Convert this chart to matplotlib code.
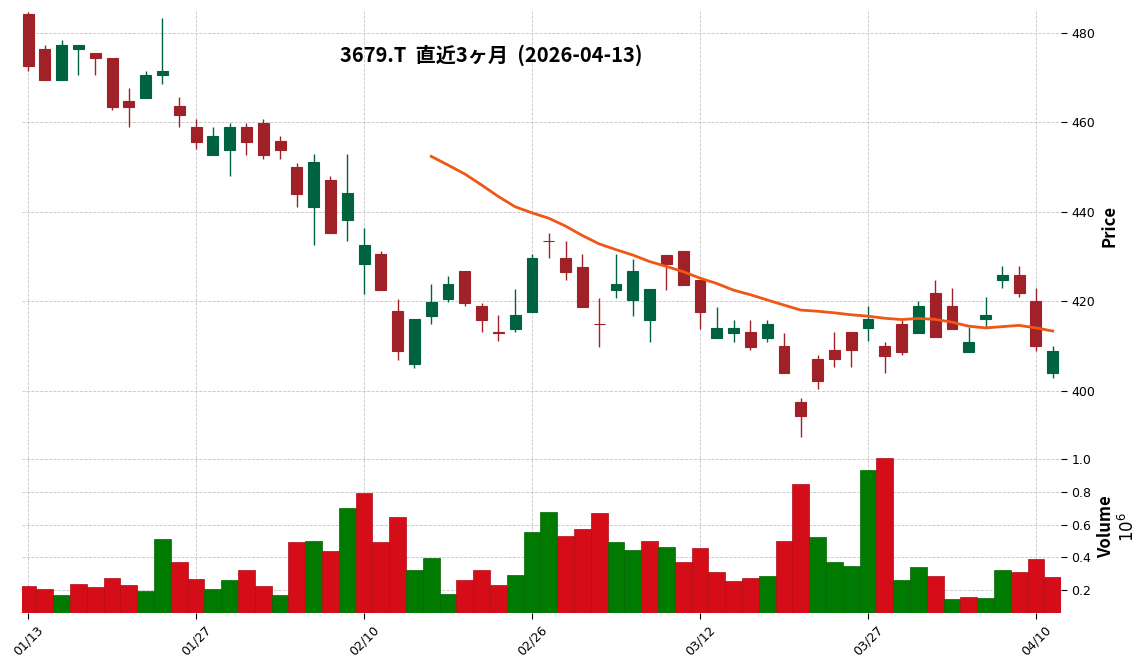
import matplotlib.pyplot as plt
import numpy as np

# 3679.T daily prices, last 3 months
dates = ['01/13', '01/14', '01/15', '01/16', '01/19', '01/20', '01/21', '01/22', '01/23', '01/26',
         '01/27', '01/28', '01/29', '01/30', '02/02', '02/03', '02/04', '02/05', '02/06', '02/09',
         '02/10', '02/12', '02/13', '02/16', '02/17', '02/18', '02/19', '02/20', '02/24', '02/25',
         '02/26', '02/27', '03/02', '03/03', '03/04', '03/05', '03/06', '03/09', '03/10', '03/11',
         '03/12', '03/13', '03/16', '03/17', '03/18', '03/19', '03/23', '03/24', '03/25', '03/26',
         '03/27', '03/30', '03/31', '04/01', '04/02', '04/03', '04/06', '04/07', '04/08', '04/09',
         '04/10', '04/13']
opens = [484.2, 476.5, 469.5, 476.3, 475.6, 474.5, 464.8, 465.5, 470.5, 463.7,
         459.0, 452.7, 453.9, 459.0, 459.9, 455.8, 450.0, 441.1, 447.1, 438.2,
         428.4, 430.5, 417.8, 406.0, 416.8, 420.5, 426.8, 419.0, 413.1, 413.9,
         417.6, 433.6, 429.7, 427.7, 415.0, 422.6, 420.4, 415.9, 430.4, 431.3,
         424.7, 411.9, 413.0, 413.1, 411.9, 410.0, 397.6, 407.1, 409.2, 413.2,
         414.0, 410.0, 415.0, 412.9, 421.9, 419.0, 408.8, 416.0, 424.9, 426.0,
         420.1, 403.9]
highs = [484.7, 477.3, 478.4, 477.4, 475.6, 474.5, 467.6, 471.5, 483.4, 465.6,
         460.7, 458.9, 459.8, 459.8, 460.7, 456.9, 451.0, 452.9, 448.1, 452.9,
         436.3, 431.3, 420.6, 416.0, 423.8, 425.7, 426.8, 419.7, 416.9, 422.7,
         430.5, 435.4, 433.4, 430.5, 420.7, 430.5, 429.4, 422.7, 430.4, 431.3,
         424.7, 418.8, 415.9, 415.9, 415.9, 413.0, 398.4, 408.1, 413.1, 413.2,
         418.9, 410.9, 415.9, 420.0, 424.9, 423.0, 414.4, 420.9, 428.0, 428.0,
         423.0, 410.0]
lows = [471.4, 469.5, 469.5, 470.6, 470.6, 462.7, 458.9, 465.5, 468.5, 458.9,
        454.0, 452.7, 448.1, 452.8, 451.9, 451.9, 441.2, 432.5, 435.3, 433.4,
        421.6, 422.5, 406.9, 405.2, 414.9, 419.8, 418.9, 413.1, 411.1, 413.1,
        417.6, 429.6, 424.7, 418.8, 409.9, 420.7, 416.8, 411.0, 422.6, 423.6,
        413.9, 411.9, 411.0, 409.1, 411.0, 404.1, 389.7, 400.4, 405.3, 405.3,
        411.2, 404.0, 408.0, 412.9, 412.0, 413.9, 408.8, 414.4, 423.0, 421.0,
        409.0, 402.9]
closes = [472.5, 469.5, 477.4, 477.4, 474.3, 463.5, 463.5, 470.6, 471.5, 461.7,
          455.7, 456.9, 459.0, 455.7, 452.7, 453.9, 444.0, 451.1, 435.3, 444.2,
          432.6, 422.5, 408.9, 416.0, 419.9, 423.9, 419.6, 415.9, 413.0, 417.0,
          429.7, 433.4, 426.6, 418.8, 414.9, 423.9, 426.7, 422.7, 428.3, 423.6,
          417.6, 414.0, 414.0, 409.9, 414.9, 404.1, 394.5, 402.3, 407.1, 409.1,
          416.1, 407.9, 408.8, 419.0, 412.0, 413.9, 411.0, 417.0, 426.0, 421.8,
          410.0, 409.0]
volumes = [227000, 208000, 171000, 239000, 221000, 276000, 233000, 196000, 510000, 374000,
           270000, 208000, 264000, 325000, 227000, 171000, 491000, 497000, 436000, 700000,
           792000, 491000, 645000, 325000, 393000, 177000, 264000, 325000, 233000, 294000,
           553000, 676000, 528000, 571000, 670000, 491000, 442000, 497000, 460000, 374000,
           454000, 313000, 257000, 276000, 288000, 497000, 848000, 522000, 374000, 344000,
           934000, 1005000, 264000, 338000, 288000, 147000, 159000, 153000, 325000, 313000,
           387000, 282000]

title = '3679.T  直近3ヶ月  (2026-04-13)'

o = np.array(opens); h = np.array(highs); l = np.array(lows); c = np.array(closes)
v = np.array(volumes) / 1e6
x = np.arange(len(dates))

up_c, dn_c = '#006340', '#a02128'
vup_c, vdn_c = '#007a00', '#d50d18'

ccol = [up_c if cc >= oo else dn_c for oo, cc in zip(o, c)]
vcol = [vdn_c] + [vup_c if c[i] > c[i - 1] else vdn_c for i in range(1, len(c))]
vedge = ['#006600' if col == vup_c else '#b00b14' for col in vcol]

ma = np.convolve(c, np.ones(25) / 25, mode='valid')

fig = plt.figure(figsize=(11.48, 6.7), dpi=100)
ax1 = fig.add_axes([0.0192, 0.341, 0.905, 0.6433])
ax2 = fig.add_axes([0.0192, 0.0855, 0.905, 0.2555], sharex=ax1)

for ax in (ax1, ax2):
    for s in ax.spines.values():
        s.set_visible(False)
    ax.grid(True, linestyle='--', color='#c4c4c4', linewidth=0.6)
    ax.set_axisbelow(True)
    ax.yaxis.tick_right()
    ax.yaxis.set_label_position('right')
    ax.tick_params(axis='both', labelsize=9, length=4, width=0.8, colors='black')

# candles
ax1.vlines(x, l, h, color=ccol, linewidth=1.0, zorder=2)
ax1.bar(x, np.abs(c - o), bottom=np.minimum(o, c), width=0.65, color=ccol,
        edgecolor=ccol, linewidth=0.8, zorder=3)
ax1.plot(x[24:], ma, color='#ef5714', linewidth=2.0, zorder=4)
ax1.set_ylim(388.7, 485.0)
ax1.set_yticks([400, 420, 440, 460, 480])
ax1.tick_params(axis='x', labelbottom=False, length=0)
ax1.set_ylabel('Price', fontsize=12, fontweight='bold',
               family=['Noto Sans CJK JP', 'DejaVu Sans'], labelpad=4)

# volume
ax2.bar(x, v, width=1.0, color=vcol, edgecolor=vedge, linewidth=0.5, zorder=3)
ax2.set_ylim(0.0613, 1.107)
ax2.set_yticks([0.2, 0.4, 0.6, 0.8, 1.0])
ax2.set_xlim(-0.36, 61.49)
ax2.set_xticks(x[::10])
ax2.set_xticklabels(dates[::10], rotation=45, ha='center')
ax2.set_ylabel('Volume\n$10^{6}$', fontsize=12, fontweight='bold',
               family=['Noto Sans CJK JP', 'DejaVu Sans'], labelpad=4)

fig.text(491 / 1148, 1 - 55 / 670, title, ha='center', va='center', fontsize=14.5,
         fontweight='bold', family=['Noto Sans CJK JP', 'DejaVu Sans'])

fig.savefig('out.png', dpi=100)
